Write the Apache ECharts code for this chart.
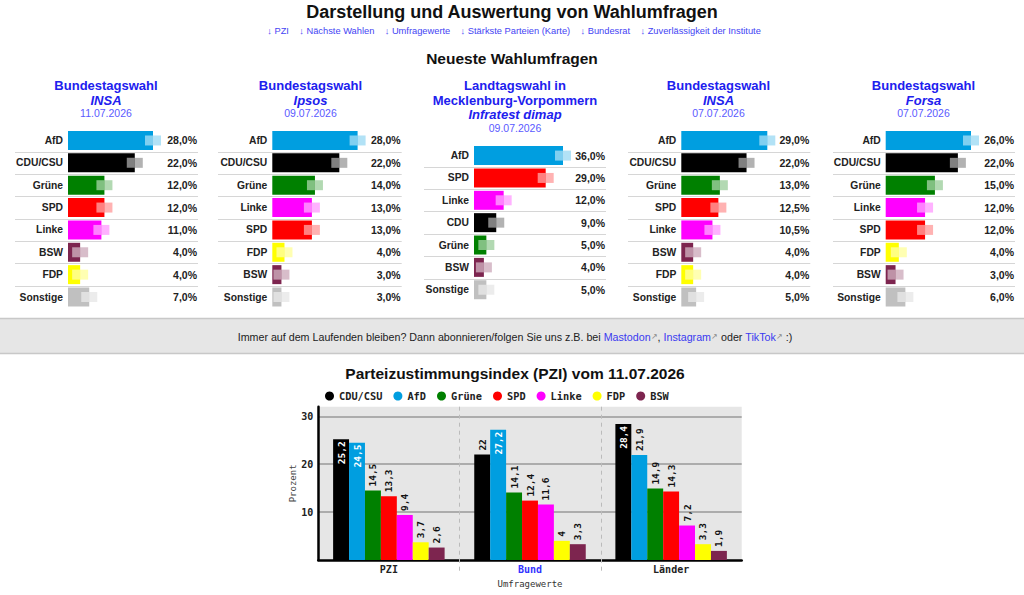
<!DOCTYPE html>
<html><head><meta charset="utf-8">
<script src="https://cdn.jsdelivr.net/npm/echarts@6/dist/echarts.min.js"></script>
<style>html,body{margin:0;padding:0;background:#fff}#c{width:1024px;height:595px}</style>
</head><body><div id="c"></div><script>
// ---------- data ----------
const pageTitle = 'Darstellung und Auswertung von Wahlumfragen';
const navLinks = ['↓ PZI', '↓ Nächste Wahlen', '↓ Umfragewerte', '↓ Stärkste Parteien (Karte)', '↓ Bundesrat', '↓ Zuverlässigkeit der Institute'];
const sectionTitle = 'Neueste Wahlumfragen';

const poll1Header = ['Bundestagswahl', 'INSA', '11.07.2026'];
const poll1Parties = ['AfD', 'CDU/CSU', 'Grüne', 'SPD', 'Linke', 'BSW', 'FDP', 'Sonstige'];
const poll1Values = [28, 22, 12, 12, 11, 4, 4, 7];

const poll2Header = ['Bundestagswahl', 'Ipsos', '09.07.2026'];
const poll2Parties = ['AfD', 'CDU/CSU', 'Grüne', 'Linke', 'SPD', 'FDP', 'BSW', 'Sonstige'];
const poll2Values = [28, 22, 14, 13, 13, 4, 3, 3];

const poll3Header = ['Landtagswahl in', 'Mecklenburg-Vorpommern', 'Infratest dimap', '09.07.2026'];
const poll3Parties = ['AfD', 'SPD', 'Linke', 'CDU', 'Grüne', 'BSW', 'Sonstige'];
const poll3Values = [36, 29, 12, 9, 5, 4, 5];

const poll4Header = ['Bundestagswahl', 'INSA', '07.07.2026'];
const poll4Parties = ['AfD', 'CDU/CSU', 'Grüne', 'SPD', 'Linke', 'BSW', 'FDP', 'Sonstige'];
const poll4Values = [29, 22, 13, 12.5, 10.5, 4, 4, 5];

const poll5Header = ['Bundestagswahl', 'Forsa', '07.07.2026'];
const poll5Parties = ['AfD', 'CDU/CSU', 'Grüne', 'Linke', 'SPD', 'FDP', 'BSW', 'Sonstige'];
const poll5Values = [26, 22, 15, 12, 12, 4, 3, 6];

const bannerPlain1 = 'Immer auf dem Laufenden bleiben? Dann abonnieren/folgen Sie uns z.B. bei ';
const bannerLinks = ['Mastodon', 'Instagram', 'TikTok'];

const pziTitle = 'Parteizustimmungsindex (PZI) vom 11.07.2026';
const pziCategories = ['PZI', 'Bund', 'Länder'];
const pziSeriesNames = ['CDU/CSU', 'AfD', 'Grüne', 'SPD', 'Linke', 'FDP', 'BSW'];
const pziCduCsu = [25.2, 22, 28.4];
const pziAfd = [24.5, 27.2, 21.9];
const pziGruene = [14.5, 14.1, 14.9];
const pziSpd = [13.3, 12.4, 14.3];
const pziLinke = [9.4, 11.6, 7.2];
const pziFdp = [3.7, 4, 3.3];
const pziBsw = [2.6, 3.3, 1.9];
const pziAxisName = 'Umfragewerte';
const pziYName = 'Prozent';

// ---------- styles / layout ----------
const SANS = '"Liberation Sans", Arial, Helvetica, sans-serif';
const MONO = '"DejaVu Sans Mono", monospace';
const partyColors = {
  'AfD': '#009ee0', 'CDU/CSU': '#000000', 'CDU': '#000000', 'Grüne': '#008000', 'SPD': '#ff0000',
  'Linke': '#ff00ff', 'BSW': '#7d254f', 'FDP': '#ffff00', 'Sonstige': '#c0c0c0'
};
const ROW_H = 22.36;
const panelLayout = [
  {cx: 106, gx: 68, gw: 85, valRight: 197, lineLeft: 15, top: 129.3, headY: [85, 100.7, 113.3]},
  {cx: 310.5, gx: 272.3, gw: 85.3, valRight: 400.7, lineLeft: 218, top: 129.3, headY: [85, 100.7, 113.3]},
  {cx: 515, gx: 474, gw: 89, valRight: 605, lineLeft: 424, top: 144.4, headY: [85, 100.7, 114.3, 128]},
  {cx: 718.5, gx: 681.3, gw: 86, valRight: 809.3, lineLeft: 628, top: 129.3, headY: [85, 100.7, 113.3]},
  {cx: 923.5, gx: 885.7, gw: 85.3, valRight: 1014, lineLeft: 833, top: 129.3, headY: [85, 100.7, 113.3]}
];
const polls = [
  {header: poll1Header, parties: poll1Parties, values: poll1Values},
  {header: poll2Header, parties: poll2Parties, values: poll2Values},
  {header: poll3Header, parties: poll3Parties, values: poll3Values},
  {header: poll4Header, parties: poll4Parties, values: poll4Values},
  {header: poll5Header, parties: poll5Parties, values: poll5Values}
];
const fmtPct = v => v.toFixed(1).replace('.', ',') + '%';
const fmtNum = v => String(v).replace('.', ',');

const grids = [], xAxes = [], yAxes = [], series = [], graphics = [];

// page header
graphics.push({type: 'text', x: 512, y: 12, style: {text: pageTitle, font: 'bold 18px ' + SANS, fill: '#111', align: 'center', verticalAlign: 'middle'}});
graphics.push({type: 'text', x: 514, y: 31, style: {text: navLinks.join('\u00a0\u00a0\u00a0\u00a0'), font: '9.3px ' + SANS, fill: '#4444f4', align: 'center', verticalAlign: 'middle'}});
graphics.push({type: 'text', x: 512, y: 58, style: {text: sectionTitle, font: 'bold 15.5px ' + SANS, fill: '#111', align: 'center', verticalAlign: 'middle'}});

polls.forEach((p, i) => {
  const L = panelLayout[i];
  const n = p.parties.length;
  p.header.forEach((t, k) => {
    const isDate = k === p.header.length - 1;
    const isInst = k === p.header.length - 2;
    const font = isDate ? '10.5px ' + SANS : (isInst ? 'italic bold 13px ' : 'bold 13px ') + SANS;
    graphics.push({type: 'text', x: L.cx, y: L.headY[k], style: {text: t, font: font, fill: isDate ? '#5a5aff' : '#2020ee', align: 'center', verticalAlign: 'middle'}});
  });
  grids.push({left: L.gx, top: L.top, width: L.gw, height: ROW_H * n, show: false, outerBoundsMode: 'none'});
  xAxes.push({gridIndex: i, type: 'value', min: 0, max: Math.max(...p.values), show: false});
  yAxes.push({
    gridIndex: i, type: 'category', data: p.parties, inverse: true,
    axisLine: {show: false}, axisTick: {show: false}, splitLine: {show: false},
    axisLabel: {interval: 0, margin: 5, fontFamily: SANS, fontWeight: 'bold', fontSize: 10.3, color: '#222'}
  });
  yAxes.push({
    gridIndex: i, type: 'category', data: p.parties, inverse: true, position: 'right',
    offset: L.valRight - (L.gx + L.gw),
    axisLine: {show: false}, axisTick: {show: false}, splitLine: {show: false},
    axisLabel: {interval: 0, margin: 0, align: 'right', fontFamily: SANS, fontWeight: 'bold', fontSize: 10.5, color: '#222',
      formatter: (v, idx) => fmtPct(p.values[idx])}
  });
  // row separators
  series.push({
    type: 'custom', xAxisIndex: i, yAxisIndex: 2 * i, clip: false, z: 1, silent: true,
    encode: {x: 0, y: 1},
    data: p.parties.slice(1).map((_, k) => [0, k + 1]),
    renderItem: (params, api) => {
      const pt = api.coord([0, api.value(1)]);
      const band = api.size([0, 1])[1];
      const y = Math.round(pt[1] - band / 2) + 0.5;
      return {type: 'line', shape: {x1: L.lineLeft, y1: y, x2: L.valRight + 1, y2: y}, style: {stroke: '#d6d6d6', lineWidth: 1}};
    }
  });
  // bars
  series.push({
    type: 'bar', xAxisIndex: i, yAxisIndex: 2 * i, barWidth: 19, silent: true, z: 2,
    data: p.values.map((v, k) => ({value: v, itemStyle: {color: partyColors[p.parties[k]]}}))
  });
  // translucent markers at bar end
  series.push({
    type: 'custom', xAxisIndex: i, yAxisIndex: 2 * i, clip: false, z: 3, silent: true,
    encode: {x: 0, y: 1},
    data: p.values.map((v, k) => [v, k]),
    renderItem: (params, api) => {
      const pt = api.coord([api.value(0), api.value(1)]);
      const c = partyColors[p.parties[api.value(1)]];
      return {type: 'group', children: [
        {type: 'rect', shape: {x: pt[0] - 8, y: pt[1] - 5, width: 8, height: 10}, style: {fill: 'rgba(255,255,255,0.5)'}},
        {type: 'rect', shape: {x: pt[0], y: pt[1] - 5, width: 8, height: 10}, style: {fill: c, opacity: 0.3}}
      ]};
    }
  });
});

// banner
graphics.push({type: 'rect', shape: {x: 0, y: 318.5, width: 1024, height: 35}, style: {fill: '#e6e6e6', stroke: null}, z: -1});
graphics.push({type: 'line', shape: {x1: 0, y1: 318.5, x2: 1024, y2: 318.5}, style: {stroke: '#c8c8c8', lineWidth: 1.5}});
graphics.push({type: 'line', shape: {x1: 0, y1: 353.5, x2: 1024, y2: 353.5}, style: {stroke: '#c8c8c8', lineWidth: 1.5}});
graphics.push({type: 'text', x: 515, y: 336.5, style: {
  text: '{t|' + bannerPlain1 + '}{l|' + bannerLinks[0] + '}{a|↗}{t|, }{l|' + bannerLinks[1] + '}{a|↗}{t| oder }{l|' + bannerLinks[2] + '}{a|↗}{t| :)}',
  align: 'center', verticalAlign: 'middle',
  rich: {
    t: {fontFamily: SANS, fontSize: 10.7, fill: '#222', color: '#222'},
    l: {fontFamily: SANS, fontSize: 10.7, fill: '#3a3af0', color: '#3a3af0'},
    a: {fontFamily: SANS, fontSize: 7.5, fill: '#888', color: '#888'}
  }
}});

// PZI title
graphics.push({type: 'text', x: 515, y: 373, style: {text: pziTitle, font: 'bold 15.5px ' + SANS, fill: '#111', align: 'center', verticalAlign: 'middle'}});

// PZI chart
const PI = polls.length;
grids.push({left: 318.3, top: 406.7, width: 423.4, height: 153.3, show: true, backgroundColor: '#e6e6e6', borderWidth: 0, outerBoundsMode: 'none'});
xAxes.push({
  gridIndex: PI, type: 'category',
  data: pziCategories.map(c => c === 'Bund' ? {value: c, textStyle: {color: '#3333ff'}} : c),
  axisLine: {show: true, lineStyle: {color: '#000', width: 2.5}},
  axisTick: {show: false},
  splitLine: {show: false},
  axisLabel: {margin: 4, fontFamily: MONO, fontWeight: 'bold', fontSize: 10, color: '#222'},
  name: pziAxisName, nameLocation: 'middle', nameGap: 19,
  nameTextStyle: {fontFamily: MONO, fontSize: 9, color: '#333'}
});
yAxes.push({
  gridIndex: PI, type: 'value', min: 0, max: 32, interval: 10,
  axisLine: {show: true, lineStyle: {color: '#000', width: 2.5}},
  axisTick: {show: false},
  splitLine: {show: true, showMinLine: false, showMaxLine: false, lineStyle: {color: '#999', width: 1.5}},
  axisLabel: {margin: 5, fontFamily: MONO, fontWeight: 'bold', fontSize: 10, color: '#222',
    formatter: v => (v > 0 && v % 10 === 0) ? String(v) : ''},
  name: pziYName, nameLocation: 'middle', nameGap: 21, nameRotate: 90,
  nameTextStyle: {fontFamily: MONO, fontSize: 9, color: '#444'}
});
// dashed category separators (extend below the axis)
series.push({
  type: 'custom', xAxisIndex: PI, yAxisIndex: 2 * PI, clip: false, z: 1, silent: true,
  encode: {x: 0, y: 1},
  data: pziCategories.slice(1).map((_, k) => [k + 1, 0]),
  renderItem: (params, api) => {
    const pt = api.coord([api.value(0), 0]);
    const band = api.size([1, 0])[0];
    const x = Math.round(pt[0] - band / 2) + 0.5;
    const cs = params.coordSys;
    return {type: 'line', shape: {x1: x, y1: cs.y, x2: x, y2: cs.y + cs.height + 14},
      style: {stroke: '#bbb', lineWidth: 1, lineDash: [4, 4]}};
  }
});
const pziValues = [pziCduCsu, pziAfd, pziGruene, pziSpd, pziLinke, pziFdp, pziBsw];
const outsideLabel = {position: 'top', rotate: 90, align: 'left', verticalAlign: 'middle', distance: 4, color: '#111'};
const insideLabel = {position: 'insideTop', rotate: 90, align: 'right', verticalAlign: 'middle', distance: 2, color: '#fff'};
pziSeriesNames.forEach((name, s) => {
  series.push({
    type: 'bar', name: name, xAxisIndex: PI, yAxisIndex: 2 * PI, barGap: '0%', barCategoryGap: '21%',
    itemStyle: {color: partyColors[name]}, silent: true, z: 2,
    label: {show: true, fontFamily: MONO, fontWeight: 'bold', fontSize: 9.5, formatter: p => fmtNum(p.value)},
    data: pziValues[s].map(v => ({value: v, label: v > 23 ? insideLabel : outsideLabel}))
  });
});

const option = {
  animation: false,
  backgroundColor: '#fff',
  textStyle: {fontFamily: SANS},
  legend: {
    data: pziSeriesNames, left: 325, top: 391, padding: 0, icon: 'circle',
    itemWidth: 9, itemHeight: 9, itemGap: 11, selectedMode: false,
    textStyle: {fontFamily: MONO, fontWeight: 'bold', fontSize: 10.3, color: '#222'}
  },
  grid: grids, xAxis: xAxes, yAxis: yAxes, series: series,
  graphic: {elements: graphics}
};
const chart = echarts.init(document.getElementById('c'), null, {renderer: 'svg', width: 1024, height: 595});
chart.setOption(option);
</script></body></html>
